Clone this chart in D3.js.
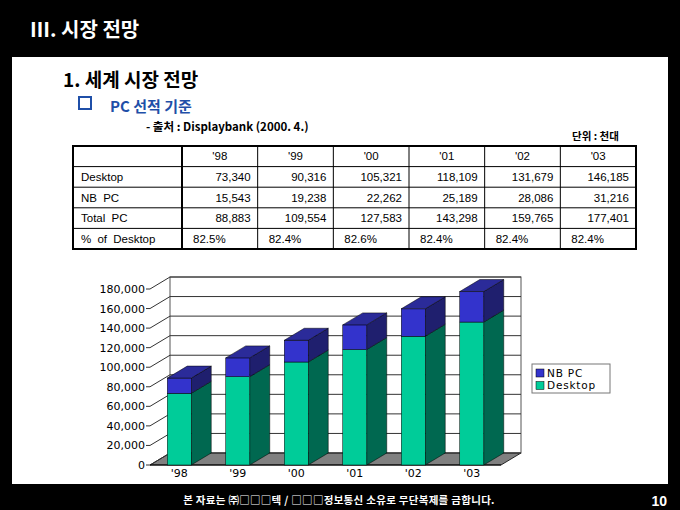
<!DOCTYPE html>
<html>
<head>
<meta charset="utf-8">
<script src="https://cdn.jsdelivr.net/npm/d3@7"></script>
<style>
  body { margin: 0; background: #000; }
  svg { display: block; }
</style>
</head>
<body>
<div class="canvas"></div>
<script>
// data
var years = ["'98", "'99", "'00", "'01", "'02", "'03"];
var desktop = [73340, 90316, 105321, 118109, 131679, 146185];
var nbpc = [15543, 19238, 22262, 25189, 28086, 31216];
var totalPc = [88883, 109554, 127583, 143298, 159765, 177401];
var pctDesktop = ["82.5%", "82.4%", "82.6%", "82.4%", "82.4%", "82.4%"];
var rowLabels = ["Desktop", "NB PC", "Total PC", "% of Desktop"];
var seriesNames = ["NB PC", "Desktop"];

var W = 680, H = 510;
var kr = "'Noto Sans CJK KR', sans-serif";

var svg = d3.select('.canvas')
    .append('svg')
    .attr('width', W)
    .attr('height', H);

svg.append('rect').attr('width', W).attr('height', H).attr('fill', '#000');
// white page panel
svg.append('rect')
    .attr('x', 12).attr('y', 57)
    .attr('width', 656).attr('height', 427)
    .attr('fill', '#fff');

// headings
svg.append('text').attr('x', 30).attr('y', 37)
    .attr('fill', '#fff').attr('font-family', kr).attr('font-weight', 700)
    .attr('font-size', 20).text('Ⅲ. 시장 전망');
svg.append('text').attr('x', 63).attr('y', 87)
    .attr('fill', '#000').attr('font-family', kr).attr('font-weight', 700)
    .attr('font-size', 19).text('1. 세계 시장 전망');
svg.append('rect').attr('x', 79).attr('y', 97).attr('width', 12).attr('height', 12)
    .attr('fill', 'none').attr('stroke', '#1f4fa8').attr('stroke-width', 2);
svg.append('text').attr('x', 110).attr('y', 112)
    .attr('fill', '#1f4fa8').attr('font-family', kr).attr('font-weight', 700)
    .attr('font-size', 15).text('PC 선적 기준');
svg.append('text').attr('x', 146).attr('y', 131)
    .attr('fill', '#000').attr('font-family', kr).attr('font-weight', 700)
    .attr('font-size', 11.5).text('- 출처 : Displaybank (2000. 4.)');
svg.append('text').attr('x', 572).attr('y', 140)
    .attr('fill', '#000').attr('font-family', kr).attr('font-weight', 700)
    .attr('font-size', 10.5).text('단위 : 천대');

// ---- table ----
var tx0 = 73, tLab = 182, tx1 = 636, ty0 = 146, ty1 = 249;
var colX = d3.scaleBand().domain(years).range([tLab, tx1]);
var rowY = d3.scaleBand().domain(['head'].concat(rowLabels)).range([ty0, ty1]);
var fmt = d3.format(',');
var tbl = svg.append('g').attr('font-family', "'Liberation Sans', Arial, sans-serif")
    .attr('font-size', 11.5).attr('fill', '#000');

rowY.domain().slice(1).forEach(function(r) {
  tbl.append('line').attr('x1', tx0).attr('x2', tx1)
      .attr('y1', rowY(r)).attr('y2', rowY(r))
      .attr('stroke', '#000').attr('stroke-width', 1);
});
years.slice(1).forEach(function(y) {
  tbl.append('line').attr('x1', colX(y)).attr('x2', colX(y))
      .attr('y1', ty0).attr('y2', ty1)
      .attr('stroke', '#000').attr('stroke-width', 1);
});
tbl.append('line').attr('x1', tLab).attr('x2', tLab).attr('y1', ty0).attr('y2', ty1)
    .attr('stroke', '#000').attr('stroke-width', 2);
tbl.append('rect').attr('x', tx0).attr('y', ty0).attr('width', tx1 - tx0).attr('height', ty1 - ty0)
    .attr('fill', 'none').attr('stroke', '#000').attr('stroke-width', 2);

var mid = rowY.bandwidth() / 2 + 4;
years.forEach(function(y) {
  tbl.append('text').attr('x', colX(y) + colX.bandwidth() / 2).attr('y', rowY('head') + mid)
      .attr('text-anchor', 'middle').text(y);
});
rowLabels.forEach(function(r) {
  tbl.append('text').attr('x', tx0 + 8).attr('y', rowY(r) + mid)
      .attr('word-spacing', 3).text(r);
});
var numRows = [[rowLabels[0], desktop], [rowLabels[1], nbpc], [rowLabels[2], totalPc]];
numRows.forEach(function(row) {
  row[1].forEach(function(v, i) {
    tbl.append('text').attr('x', colX(years[i]) + colX.bandwidth() - 7)
        .attr('y', rowY(row[0]) + mid).attr('text-anchor', 'end').text(fmt(v));
  });
});
pctDesktop.forEach(function(p, i) {
  tbl.append('text').attr('x', colX(years[i]) + 11).attr('y', rowY(rowLabels[3]) + mid).text(p);
});

// ---- 3D stacked bar chart ----
var dx = 20, dy = -12;
var x = d3.scaleBand().domain(years).range([150, 501]).paddingInner(0.59).paddingOuter(0.295);
var y = d3.scaleLinear().domain([0, 180000]).range([465, 289]);
var ticks = y.ticks(9);
var ch = svg.append('g');

function pts(a) { return a.map(function(p) { return p.join(','); }).join(' '); }

var xl = x.range()[0], xr = x.range()[1];
// floor
ch.append('polygon')
    .attr('points', pts([[xl, y(0)], [xr, y(0)], [xr + dx, y(0) + dy], [xl + dx, y(0) + dy]]))
    .attr('fill', '#808080').attr('stroke', '#000').attr('stroke-width', 0.8);
// back wall
ch.append('rect').attr('x', xl + dx).attr('y', y(180000) + dy)
    .attr('width', xr - xl).attr('height', y(0) - y(180000))
    .attr('fill', 'none').attr('stroke', '#555').attr('stroke-width', 1);
ticks.forEach(function(t) {
  ch.append('line').attr('x1', xl + dx).attr('x2', xr + dx)
      .attr('y1', y(t) + dy).attr('y2', y(t) + dy)
      .attr('stroke', '#333').attr('stroke-width', 1);
  ch.append('line').attr('x1', xl - 4).attr('x2', xl)
      .attr('y1', y(t)).attr('y2', y(t)).attr('stroke', '#333');
  ch.append('line').attr('x1', xl).attr('x2', xl + dx)
      .attr('y1', y(t)).attr('y2', y(t) + dy)
      .attr('stroke', '#333').attr('stroke-width', 1);
  ch.append('text').attr('x', xl - 5).attr('y', y(t) + 4)
      .attr('text-anchor', 'end').attr('font-family', "'DejaVu Sans', sans-serif")
      .attr('font-size', 11).attr('fill', '#000').text(fmt(t));
});
ch.append('line').attr('x1', xl).attr('x2', xr).attr('y1', y(0)).attr('y2', y(0))
    .attr('stroke', '#000');

var cols = {
  'Desktop': { front: '#00cc99', side: '#006850', top: '#00a07a' },
  'NB PC': { front: '#3333cc', side: '#1f1f6e', top: '#2b2b99' }
};

function block(x0, w, v0, v1, c, withTop) {
  var yb = y(v0), yt = y(v1);
  ch.append('polygon')
      .attr('points', pts([[x0 + w, yb], [x0 + w + dx, yb + dy], [x0 + w + dx, yt + dy], [x0 + w, yt]]))
      .attr('fill', c.side).attr('stroke', '#000').attr('stroke-width', 0.5);
  ch.append('rect').attr('x', x0).attr('y', yt).attr('width', w).attr('height', yb - yt)
      .attr('fill', c.front).attr('stroke', '#000').attr('stroke-width', 0.5);
  if (withTop) {
    ch.append('polygon')
        .attr('points', pts([[x0, yt], [x0 + w, yt], [x0 + w + dx, yt + dy], [x0 + dx, yt + dy]]))
        .attr('fill', c.top).attr('stroke', '#000').attr('stroke-width', 0.5);
  }
}

years.forEach(function(yr, i) {
  var x0 = x(yr), w = x.bandwidth();
  block(x0, w, 0, desktop[i], cols['Desktop'], false);
  block(x0, w, desktop[i], desktop[i] + nbpc[i], cols['NB PC'], true);
  ch.append('text').attr('x', x0 + w / 2).attr('y', y(0) + 12)
      .attr('text-anchor', 'middle').attr('font-family', "'DejaVu Sans', sans-serif")
      .attr('font-size', 11).attr('fill', '#000').text(yr);
});

// legend
var lg = svg.append('g').attr('transform', 'translate(532,364)');
lg.append('rect').attr('width', 78).attr('height', 29)
    .attr('fill', '#fff').attr('stroke', '#777');
seriesNames.forEach(function(s, i) {
  lg.append('rect').attr('x', 4).attr('y', 5 + i * 12.5).attr('width', 8).attr('height', 8)
      .attr('fill', cols[s].front).attr('stroke', '#000').attr('stroke-width', 0.5);
  lg.append('text').attr('x', 15).attr('y', 12.5 + i * 12.5)
      .attr('font-family', "'DejaVu Sans', sans-serif").attr('font-size', 10.5)
      .attr('letter-spacing', 0.8).attr('fill', '#000').text(s);
});

// footer
svg.append('text').attr('x', 339).attr('y', 504).attr('text-anchor', 'middle')
    .attr('fill', '#fff').attr('font-family', kr).attr('font-weight', 700)
    .attr('font-size', 10.5).attr('letter-spacing', 0.3)
    .text('본 자료는 ㈜□□□텍 / □□□정보통신 소유로 무단복제를 금합니다.');
svg.append('text').attr('x', 667).attr('y', 506).attr('text-anchor', 'end')
    .attr('fill', '#fff').attr('font-family', "'Liberation Sans', Arial, sans-serif")
    .attr('font-weight', 700).attr('font-size', 14).text('10');
</script>
</body>
</html>
